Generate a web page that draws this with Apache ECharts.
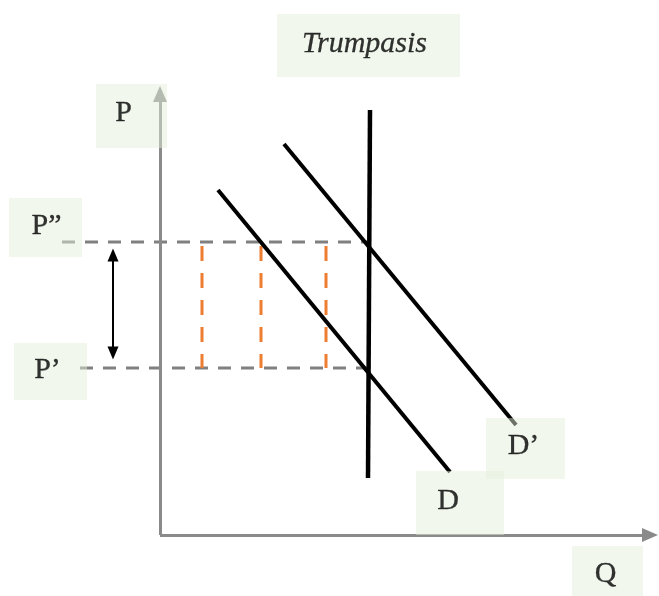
<!DOCTYPE html>
<html>
	<head>
		<meta charset="UTF-8">
		<title>Trumpasis</title>
		<script src="https://cdn.jsdelivr.net/npm/echarts@6/dist/echarts.min.js"></script>
		<style>
			html, body { margin: 0; padding: 0; background: #fff; }
			#main { width: 659px; height: 596px; }
		</style>
	</head>
	<body>
		<div id="main"></div>
		<script type="text/javascript">
			// diagram units: origin = corner of the P/Q axes
			var qAxis = [[0, 0], [98, 0]];
			var pAxis = [[0, 0], [0, 88.2]];
			var supplyS = [[42, 85], [41.6, 11.4]];
			var demandD = [[11.6, 69], [58, 12.6]];
			var demandD2 = [[24.8, 78.2], [71.2, 22]];
			var pHigh = 58.6;
			var pLow = 33.4;
			var pHighFrom = -19.6;
			var pLowFrom = -16;
			var pLineTo = 42;
			var orangeQ = [8.4, 20.2, 33.2];
			var orangeTop = 57.8;
			var gapArrowQ = -9.4;
			var gapArrowP = [56, 36.4];
			var labelNames = ['Trumpasis', 'P', 'P\u201d', 'P\u2019', 'D\u2019', 'D', 'Q'];
			var labelPos = [[41.7, 97.9], [-5.7, 83.8], [-22.9, 61.5], [-21.9, 32.7], [73.1, 17.3], [60, 6.4], [89.5, -8.2]];
			var labelBox = [[183, 63], [71, 64], [73, 59], [73, 57], [79, 61], [88, 64], [71, 60]];
			var labelShift = [[-4, -1], [-8, -3], [1, -1], [-3, -1], [-2, -2], [-12, -2], [-2, -2]];

			var myChart = echarts.init(document.getElementById('main'));

			function seg(data, color, width, dash, z) {
				return {
					type: 'line',
					data: data,
					symbol: 'none',
					silent: true,
					z: z || 3,
					lineStyle: { color: color, width: width, type: dash || 'solid' }
				};
			}

			var series = [];
			series.push(seg([[pHighFrom, pHigh], [pLineTo, pHigh]], '#808080', 3, [13, 10]));
			series.push(seg([[pLowFrom, pLow], [pLineTo - 0.4, pLow]], '#808080', 3, [13, 10]));
			orangeQ.forEach(function (q) {
				series.push(seg([[q, orangeTop], [q, pLow]], '#ed7d31', 3, [15, 12]));
			});
			series.push(seg(demandD, '#000', 4, null, 4));
			series.push(seg(demandD2, '#000', 4, null, 4));
			series.push(seg(supplyS, '#000', 4.5, null, 4));

			// axes + double arrow
			series.push({
				type: 'line',
				data: [],
				silent: true,
				markLine: {
					silent: true,
					animation: false,
					label: { show: false },
					emphasis: { disabled: true },
					data: [
						[{ coord: qAxis[0], symbol: 'none' }, { coord: qAxis[1], symbol: 'triangle', symbolSize: [14, 16] }],
						[{ coord: pAxis[0], symbol: 'none' }, { coord: pAxis[1], symbol: 'triangle', symbolSize: [14, 16] }]
					],
					lineStyle: { color: '#8a8a8a', width: 3, type: 'solid' }
				}
			});
			series.push({
				type: 'line',
				data: [],
				silent: true,
				markLine: {
					silent: true,
					animation: false,
					label: { show: false },
					emphasis: { disabled: true },
					symbol: ['triangle', 'triangle'],
					symbolSize: [11, 13],
					data: [
						[{ coord: [gapArrowQ, gapArrowP[0]] }, { coord: [gapArrowQ, gapArrowP[1]] }]
					],
					lineStyle: { color: '#000', width: 2, type: 'solid' }
				}
			});

			// label boxes
			series.push({
				type: 'scatter',
				silent: true,
				z: 10,
				data: labelNames.map(function (n, i) {
					return {
						value: labelPos[i],
						symbolSize: labelBox[i],
						label: {
							show: true,
							formatter: n,
							offset: labelShift[i],
							fontStyle: i === 0 ? 'italic' : 'normal'
						}
					};
				}),
				symbol: 'rect',
				itemStyle: { color: 'rgba(226,239,217,0.6)' },
				label: {
					position: 'inside',
					color: '#000',
					textBorderColor: '#000',
					textBorderWidth: 0.3,
					fontFamily: '"Liberation Serif", "Times New Roman", Times, serif',
					fontSize: 30
				}
			});

			myChart.setOption({
				animation: false,
				grid: { left: 0, right: 0, top: 0, bottom: 0 },
				xAxis: { type: 'value', min: -32, max: 99.8, show: false },
				yAxis: { type: 'value', min: -12.2, max: 107, show: false },
				series: series
			});
		</script>
	</body>
</html>
